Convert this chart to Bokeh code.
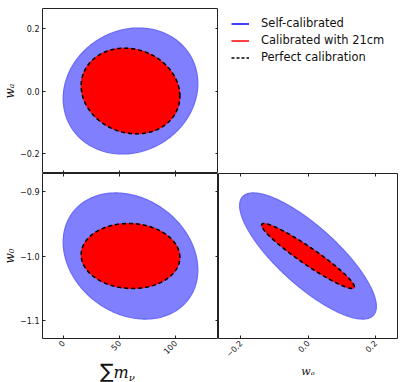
import numpy as np
from bokeh.plotting import figure
from bokeh.models import LinearAxis, FixedTicker, Range1d, Legend, LegendItem, Div
from bokeh.layouts import column, row
from bokeh.embed import file_html
from bokeh.resources import INLINE

# ---------------- data ----------------
param_names = ["mnu", "wa", "w0"]
param_centers = [60.0, 0.0, -1.0]
self_cal_half = [60.0, 0.203, 0.097]     # half extents of the self-calibrated contour
cal21_half = [44.0, 0.138, 0.050]        # calibrated with 21cm
perfect_half = [44.0, 0.138, 0.050]      # perfect calibration
pair_list = [(0, 1), (0, 2), (1, 2)]     # (x param, y param): top-left, bottom-left, bottom-right
self_cal_rho = [0.12, -0.22, -0.80]
cal21_rho = [-0.12, -0.04, -0.95]
perfect_rho = [-0.12, -0.04, -0.95]

mnu_ticks = [0.0, 50.0, 100.0]
mnu_tick_labels = ["0", "50", "100"]
wa_ticks = [-0.2, 0.0, 0.2]
wa_tick_labels = ["\u22120.2", "0.0", "0.2"]
w0_ticks = [-1.1, -1.0, -0.9]
w0_tick_labels = ["\u22121.1", "\u22121.0", "\u22120.9"]
axis_limits = [(-18.5, 138.5), (-0.266, 0.266), (-1.127, -0.873)]
legend_labels = ["Self-calibrated", "Calibrated with 21cm", "Perfect calibration"]

TICKS = {0: (mnu_ticks, mnu_tick_labels), 1: (wa_ticks, wa_tick_labels), 2: (w0_ticks, w0_tick_labels)}

SPINE = "#222222"
TEXT = "#111111"
BLUE_FILL, BLUE_EDGE = "#8080ff", "#6b6bf8"
RED = "#ff0000"


def contour(pair_idx, half, rho):
    ix, iy = pair_list[pair_idx]
    t = np.linspace(0, 2 * np.pi, 361)
    r = rho[pair_idx]
    x = param_centers[ix] + half[ix] * np.cos(t)
    y = param_centers[iy] + half[iy] * (r * np.cos(t) + np.sqrt(1 - r * r) * np.sin(t))
    return x, y


def add_axis(p, side, pidx, labels=True, fixed=None, orientation=None):
    ticks, tlabels = TICKS[pidx]
    ax = LinearAxis(ticker=FixedTicker(ticks=ticks),
                    major_label_overrides={float(t): l for t, l in zip(ticks, tlabels)})
    if fixed is not None:
        ax.fixed_location = fixed
    ax.major_tick_in = 3
    ax.major_tick_out = 0
    ax.minor_tick_in = 0
    ax.minor_tick_out = 0
    ax.axis_line_color = None
    ax.major_tick_line_color = SPINE
    ax.major_tick_line_width = 1
    ax.major_label_text_font = "DejaVu Sans"
    ax.major_label_text_font_size = "8px" if labels else "0px"
    ax.major_label_text_alpha = 1.0 if labels else 0.0
    ax.major_label_text_color = TEXT
    ax.major_label_standoff = 3
    if orientation is not None:
        ax.major_label_orientation = orientation
    p.add_layout(ax, side)
    return ax


def set_label(ax, text, size="12px", standoff=0):
    ax.axis_label = text
    ax.axis_label_text_font = "DejaVu Serif"
    ax.axis_label_text_font_style = "italic"
    ax.axis_label_text_font_size = size
    ax.axis_label_text_color = TEXT
    ax.axis_label_standoff = standoff


def panel(pair_idx, width, height, left, right, top, bottom):
    ix, iy = pair_list[pair_idx]
    p = figure(width=width, height=height,
               x_range=Range1d(*axis_limits[ix]), y_range=Range1d(*axis_limits[iy]),
               x_axis_location=None, y_axis_location=None,
               toolbar_location=None, output_backend="svg",
               min_border_left=left, min_border_right=right,
               min_border_top=top, min_border_bottom=bottom)
    p.outline_line_color = SPINE
    p.outline_line_width = 1
    p.grid.visible = False
    x, y = contour(pair_idx, self_cal_half, self_cal_rho)
    p.patch(x, y, fill_color=BLUE_FILL, line_color=BLUE_EDGE, line_width=1.3)
    x, y = contour(pair_idx, cal21_half, cal21_rho)
    p.patch(x, y, fill_color=RED, line_color=RED, line_width=1.0)
    x, y = contour(pair_idx, perfect_half, perfect_rho)
    p.line(x, y, line_color="black", line_width=1.6, line_dash="4 3")
    return p


FRAME_W_L = 178
FRAME_W_R = 179
FRAME_H = 165

# top-left: w_a vs sum m_nu
tl = panel(0, 40 + FRAME_W_L, 8 + FRAME_H, 40, 0, 8, 0)
ax = add_axis(tl, "left", 1)
set_label(ax, "w\u2090")
add_axis(tl, "below", 0, labels=False, fixed=axis_limits[1][0])
add_axis(tl, "right", 1, labels=False, fixed=axis_limits[0][1])

# bottom-left: w_0 vs sum m_nu
bl = panel(1, 40 + FRAME_W_L, FRAME_H + 24, 40, 0, 0, 24)
ax = add_axis(bl, "left", 2)
set_label(ax, "w\u2080")
add_axis(bl, "below", 0, orientation=np.pi / 4)
add_axis(bl, "above", 0, labels=False, fixed=axis_limits[2][1])
add_axis(bl, "right", 2, labels=False, fixed=axis_limits[0][1])

xlabel_html = (
    '<div style="margin-left:100px; margin-top:-1px; white-space:nowrap; color:#111111; line-height:1;">'
    '<span style="font-family:\'DejaVu Sans\'; font-size:20px;">\u2211</span>'
    '<span style="font-family:\'DejaVu Serif\'; font-style:italic; font-size:16px;">m</span>'
    '<span style="font-family:\'DejaVu Serif\'; font-style:italic; font-size:10px; '
    'position:relative; top:3px;">\u03bd</span></div>'
)
bl_xlabel = Div(text=xlabel_html, width=40 + FRAME_W_L, height=19, margin=0)

# bottom-right: w_0 vs w_a
br = panel(2, FRAME_W_R + 9, FRAME_H + 43, 0, 9, 0, 43)
bx = add_axis(br, "below", 1, orientation=np.pi / 4)
set_label(bx, "w\u2090", size="11px", standoff=2)
add_axis(br, "above", 1, labels=False, fixed=axis_limits[2][1])

# legend panel (top-right): legend glyphs come from hidden copies of the top-left contours
lf = figure(width=FRAME_W_R + 9, height=8 + FRAME_H, x_range=Range1d(0, 1), y_range=Range1d(0, 1),
            x_axis_location=None, y_axis_location=None, toolbar_location=None,
            output_backend="svg", min_border=0)
lf.outline_line_color = None
lf.grid.visible = False
x1, y1 = contour(0, self_cal_half, self_cal_rho)
x2, y2 = contour(0, cal21_half, cal21_rho)
x3, y3 = contour(0, perfect_half, perfect_rho)
r1 = lf.line(x=x1, y=y1, line_color="#0000ff", line_width=1.5, visible=False)
r2 = lf.line(x=x2, y=y2, line_color="#ff0000", line_width=1.5, visible=False)
r3 = lf.line(x=x3, y=y3, line_color="black", line_width=1.5, line_dash="3 2", visible=False)
leg = Legend(items=[LegendItem(label=lab, renderers=[r]) for lab, r in zip(legend_labels, [r1, r2, r3])],
             location=(13, 107.2), padding=0, margin=0, spacing=0,
             glyph_width=18, glyph_height=17, label_height=17, label_standoff=12,
             label_text_font="DejaVu Sans", label_text_font_size="11.5px",
             label_text_color=TEXT, inactive_fill_alpha=0,
             border_line_color=None, background_fill_alpha=0)
lf.add_layout(leg)

layout = column(row(tl, lf), row(column(bl, bl_xlabel), br))

open("out.html", "w").write(file_html(layout, INLINE))
